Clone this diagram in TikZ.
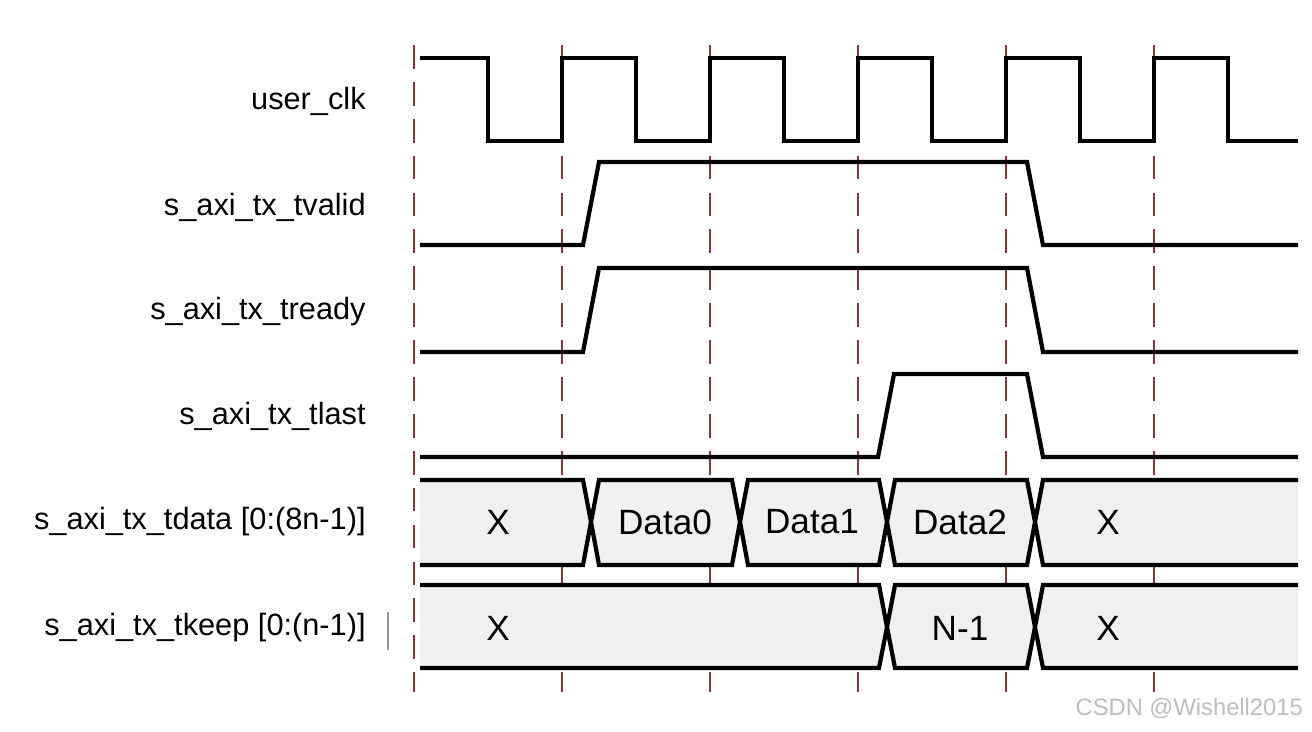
\documentclass[tikz,border=0pt]{standalone}
\usepackage{fontspec}
\setmainfont{Liberation Sans}
\usetikzlibrary{positioning}
\definecolor{Guide}{HTML}{8E3434}
\definecolor{BusFill}{HTML}{F0F0F0}
\definecolor{Mark}{HTML}{BDBDBD}

\begin{document}
\begin{tikzpicture}[x=0.02cm,y=-0.02cm,
    wave/.style={line width=2.4pt,line join=miter},
    busbox/.style={wave,fill=BusFill},
    guide/.style={draw=Guide,line width=1.3pt,dash pattern=on 13.5pt off 7.5pt},
    sig/.style={anchor=east,inner sep=0pt,font=\fontsize{17.5}{20}\selectfont},
    val/.style={font=\fontsize{20}{24}\selectfont}]
  \useasboundingbox (0,0) rectangle (1312,731);

  % clock edges
  \foreach \t in {414,562,...,1154}
    \draw[guide] (\t,45) -- (\t,692);

  % signal names
  \node[sig] (nclk)   at (366,101) {user\_clk};
  \node[sig] (nvalid) at (366,207) {s\_axi\_tx\_tvalid};
  \node[sig] (nready) at (366,312) {s\_axi\_tx\_tready};
  \node[sig] (nlast)  at (366,416) {s\_axi\_tx\_tlast};
  \node[sig] (ndata)  at (366,522) {s\_axi\_tx\_tdata [0:(8n-1)]};
  \node[sig] (nkeep)  at (366,628) {s\_axi\_tx\_tkeep [0:(n-1)]};
  \draw[Mark!80!black,line width=0.6pt] (388,612) -- (388,650);

  % user_clk
  \draw[wave] (420,58)
    \foreach \t in {414,562,...,1006} {-- (\t+74,58) -- (\t+74,141) -- (\t+148,141) -- (\t+148,58)}
    -- (1228,58) -- (1228,141) -- (1298,141);

  % tvalid / tready / tlast
  \draw[wave] (420,245) -- (583,245) -- (599,162) -- (1027,162) -- (1043,245) -- (1298,245);
  \draw[wave] (420,352) -- (583,352) -- (599,268) -- (1027,268) -- (1043,352) -- (1298,352);
  \draw[wave] (420,457) -- (878,457) -- (894,374) -- (1027,374) -- (1043,457) -- (1298,457);

  % tdata
  \fill[BusFill] (420,480) -- (583,480) -- (591,522) -- (583,565) -- (420,565) -- cycle;
  \draw[wave] (420,480) -- (583,480) -- (591,522) -- (583,565) -- (420,565);
  \filldraw[busbox] (599,480) -- (732,480) -- (740,522) -- (732,565) -- (599,565) -- (591,522) -- cycle;
  \filldraw[busbox] (748,480) -- (879,480) -- (887,522) -- (879,565) -- (748,565) -- (740,522) -- cycle;
  \filldraw[busbox] (895,480) -- (1027,480) -- (1035,522) -- (1027,565) -- (895,565) -- (887,522) -- cycle;
  \fill[BusFill] (1298,480) -- (1043,480) -- (1035,522) -- (1043,565) -- (1298,565) -- cycle;
  \draw[wave] (1298,480) -- (1043,480) -- (1035,522) -- (1043,565) -- (1298,565);
  \node[val] (dx0) at (498,522) {X};
  \node[val] (dd0) at (665,522) {Data0};
  \node[val] (dd1) at (812,522) {Data1};
  \node[val] (dd2) at (960,522) {Data2};
  \node[val] (dx1) at (1108,522) {X};

  % tkeep
  \fill[BusFill] (420,585) -- (879,585) -- (887,627) -- (879,668) -- (420,668) -- cycle;
  \draw[wave] (420,585) -- (879,585) -- (887,627) -- (879,668) -- (420,668);
  \filldraw[busbox] (895,585) -- (1027,585) -- (1035,627) -- (1027,668) -- (895,668) -- (887,627) -- cycle;
  \fill[BusFill] (1298,585) -- (1043,585) -- (1035,627) -- (1043,668) -- (1298,668) -- cycle;
  \draw[wave] (1298,585) -- (1043,585) -- (1035,627) -- (1043,668) -- (1298,668);
  \node[val] (kx0) at (498,628) {X};
  \node[val] (kn)  at (960,628) {N-1};
  \node[val] (kx1) at (1108,628) {X};

  \node[anchor=east,text=Mark,font=\fontsize{13.5}{16}\selectfont] (wmark) at (1309,709) {CSDN @Wishell2015};
\end{tikzpicture}
\end{document}
